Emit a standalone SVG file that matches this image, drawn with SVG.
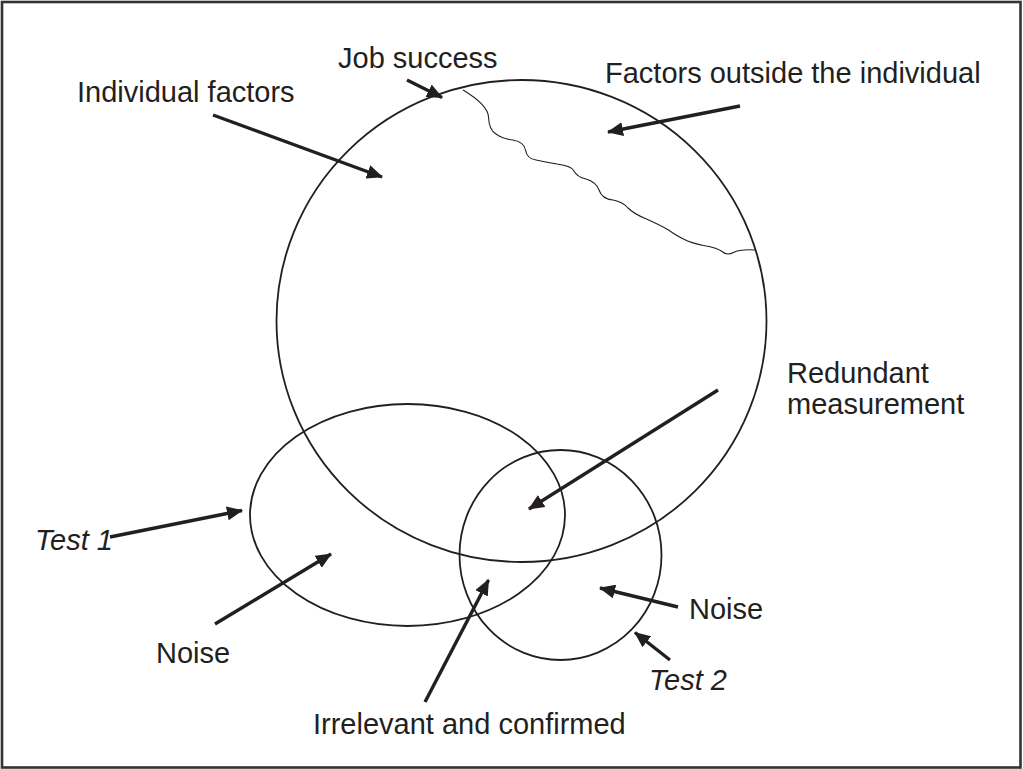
<svg xmlns="http://www.w3.org/2000/svg" width="1023" height="769" viewBox="0 0 1023 769">
  <style>
    .label { font-family: "Liberation Sans", Arial, Helvetica, sans-serif; font-size: 29px; fill: #231f20; }
    .ital { font-style: italic; }
    .set { fill: none; stroke: #231f20; stroke-width: 1.8; }
    .edge { fill: none; stroke: #231f20; stroke-width: 3.4; marker-end: url(#head); }
  </style>
  <defs>
    <marker id="head" markerUnits="userSpaceOnUse" markerWidth="18" markerHeight="14" refX="15" refY="7" orient="auto">
      <path d="M0,0 L16,7 L0,14 Z" fill="#231f20"/>
    </marker>
  </defs>

  <rect x="0" y="0" width="1023" height="769" fill="#ffffff"/>
  <rect x="2" y="2" width="1018.5" height="765.5" fill="none" stroke="#333333" stroke-width="2.6"/>

  <!-- Job success: large circle with the boundary of outside factors -->
  <g id="job-success">
    <ellipse class="set" cx="521.5" cy="321" rx="245" ry="241"/>
    <path d="M463,90 Q488,105 488.5,117 Q489,130 496,134 Q503,139 513,140 Q524,142 525.5,150 Q527,159 536,160 Q545,162 557,164 Q572,166 574,171 Q577,177 586,179 Q596,182 599,190 Q602,199 613,200 Q623,202 628,208 Q634,214 646.5,219 Q660,225 668.5,230 Q677,236 683.5,239 Q691,243 703.5,245.5 Q718,248 722,251.5 Q727,256 733.5,252.5 Q740,249 755,250" fill="none" stroke="#231f20" stroke-width="1.1"/>
  </g>

  <!-- Test 1 -->
  <g id="test-1">
    <ellipse class="set" cx="407.5" cy="515" rx="157.5" ry="111"/>
  </g>

  <!-- Test 2 -->
  <g id="test-2">
    <ellipse class="set" cx="560.5" cy="555" rx="101" ry="105"/>
  </g>

  <!-- Pointer arrows -->
  <g id="connectors">
    <line class="edge" x1="407" y1="80" x2="442" y2="97.5"/>
    <line class="edge" x1="213" y1="115" x2="382" y2="177"/>
    <line class="edge" x1="740" y1="106" x2="608" y2="132"/>
    <line class="edge" x1="718" y1="390" x2="529" y2="509"/>
    <line class="edge" x1="110" y1="537" x2="242" y2="510.5"/>
    <line class="edge" x1="215" y1="624" x2="331" y2="554"/>
    <line class="edge" x1="425" y1="702" x2="488.5" y2="580"/>
    <line class="edge" x1="678" y1="607" x2="600" y2="588"/>
    <line class="edge" x1="670" y1="660" x2="635" y2="632.5"/>
  </g>

  <!-- Labels -->
  <g id="labels">
    <text class="label" x="338" y="68">Job success</text>
    <text class="label" x="77" y="102">Individual factors</text>
    <text class="label" x="605" y="83">Factors outside the individual</text>
    <text class="label" x="787" y="383">Redundant</text>
    <text class="label" x="787" y="414">measurement</text>
    <text class="label ital" x="35" y="550">Test 1</text>
    <text class="label" x="156" y="663">Noise</text>
    <text class="label" x="689" y="619">Noise</text>
    <text class="label ital" x="649" y="690">Test 2</text>
    <text class="label" x="313" y="734">Irrelevant and confirmed</text>
  </g>
</svg>
